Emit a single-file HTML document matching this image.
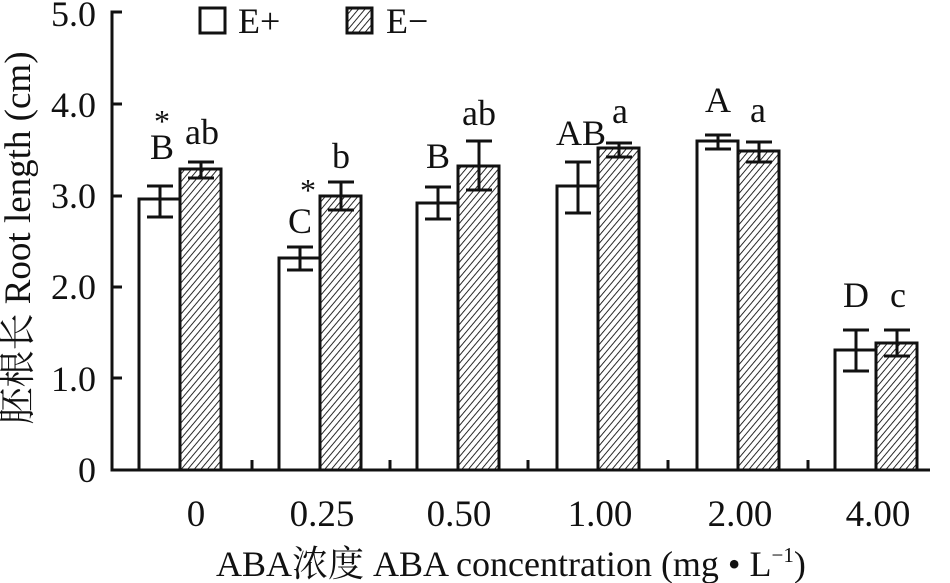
<!DOCTYPE html>
<html><head><meta charset="utf-8"><style>html,body{margin:0;padding:0;background:#fff}svg{display:block}text{font-family:"Liberation Serif","Noto Serif CJK SC",serif;fill:#111}</style></head>
<body>
<svg width="950" height="583" viewBox="0 0 950 583" xmlns="http://www.w3.org/2000/svg">
<defs>
<pattern id="h" width="5" height="5" patternUnits="userSpaceOnUse" patternTransform="rotate(40)">
<rect width="5" height="5" fill="#fff"/><line x1="0" y1="0" x2="0" y2="5" stroke="#111" stroke-width="1.8"/>
</pattern>
</defs>
<g stroke="#111" stroke-width="3" fill="none">
<polyline points="122,12 112,12 112,470 930,470"/>
<line x1="112" y1="104" x2="122" y2="104"/>
<line x1="112" y1="196" x2="122" y2="196"/>
<line x1="112" y1="287" x2="122" y2="287"/>
<line x1="112" y1="378" x2="122" y2="378"/>
<line x1="252" y1="470" x2="252" y2="460"/>
<line x1="390" y1="470" x2="390" y2="460"/>
<line x1="528" y1="470" x2="528" y2="460"/>
<line x1="668" y1="470" x2="668" y2="460"/>
<line x1="808" y1="470" x2="808" y2="460"/>
</g>
<g stroke="#111" stroke-width="3">
<rect x="139" y="199" width="41" height="271" fill="#fff"/>
<rect x="180" y="169" width="41" height="301" fill="url(#h)"/>
<rect x="279" y="258" width="41" height="212" fill="#fff"/>
<rect x="320" y="196" width="41" height="274" fill="url(#h)"/>
<rect x="417" y="203" width="41" height="267" fill="#fff"/>
<rect x="458" y="166" width="41" height="304" fill="url(#h)"/>
<rect x="557" y="186" width="41" height="284" fill="#fff"/>
<rect x="598" y="148" width="41" height="322" fill="url(#h)"/>
<rect x="697" y="141" width="41" height="329" fill="#fff"/>
<rect x="738" y="151" width="41" height="319" fill="url(#h)"/>
<rect x="835" y="350" width="41" height="120" fill="#fff"/>
<rect x="876" y="343" width="41" height="127" fill="url(#h)"/>
</g>
<g stroke="#111" stroke-width="3" fill="none">
<path d="M147,186h26M160,186v31M147,217h26"/>
<path d="M188,162h26M201,162v16M188,178h26"/>
<path d="M287,247h26M300,247v23M287,270h26"/>
<path d="M328,182h26M341,182v28M328,210h26"/>
<path d="M425,187h26M438,187v32M425,219h26"/>
<path d="M466,141h26M479,141v49M466,190h26"/>
<path d="M565,162h26M578,162v51M565,213h26"/>
<path d="M606,143h26M619,143v14M606,157h26"/>
<path d="M705,135h26M718,135v14M705,149h26"/>
<path d="M746,142h26M759,142v20M746,162h26"/>
<path d="M843,330h26M856,330v41M843,371h26"/>
<path d="M884,330h26M897,330v26M884,356h26"/>
</g>
<g font-size="36" text-anchor="middle">
<text x="162" y="132" font-size="32">*</text>
<text x="162" y="159">B</text>
<text x="202" y="144">ab</text>
<text x="308" y="201" font-size="32">*</text>
<text x="300" y="233">C</text>
<text x="341" y="168">b</text>
<text x="438" y="168">B</text>
<text x="479" y="125">ab</text>
<text x="581" y="145">AB</text>
<text x="620" y="123">a</text>
<text x="718" y="112">A</text>
<text x="758" y="122">a</text>
<text x="856" y="307">D</text>
<text x="898" y="307">c</text>
</g>
<g font-size="36" text-anchor="end">
<text x="96" y="26">5.0</text>
<text x="96" y="117">4.0</text>
<text x="96" y="208">3.0</text>
<text x="96" y="299">2.0</text>
<text x="96" y="391">1.0</text>
<text x="96" y="482">0</text>
</g>
<g font-size="37" text-anchor="middle">
<text x="196" y="526">0</text>
<text x="322" y="526">0.25</text>
<text x="459" y="526">0.50</text>
<text x="600" y="526">1.00</text>
<text x="740" y="526">2.00</text>
<text x="878" y="526">4.00</text>
</g>
<text x="30" y="238" font-size="37" text-anchor="middle" transform="rotate(-90 30 238)">胚根长 Root length (cm)</text>
<text x="216" y="576" font-size="36">ABA浓度 ABA concentration (mg • L<tspan font-size="21" dy="-14">−1</tspan><tspan dy="14">)</tspan></text>
<rect x="200" y="8" width="25" height="25" fill="#fff" stroke="#111" stroke-width="3"/>
<text x="238" y="33" font-size="36">E+</text>
<rect x="347" y="8" width="25" height="25" fill="url(#h)" stroke="#111" stroke-width="3"/>
<text x="386" y="33" font-size="36">E−</text>
</svg>
</body></html>
